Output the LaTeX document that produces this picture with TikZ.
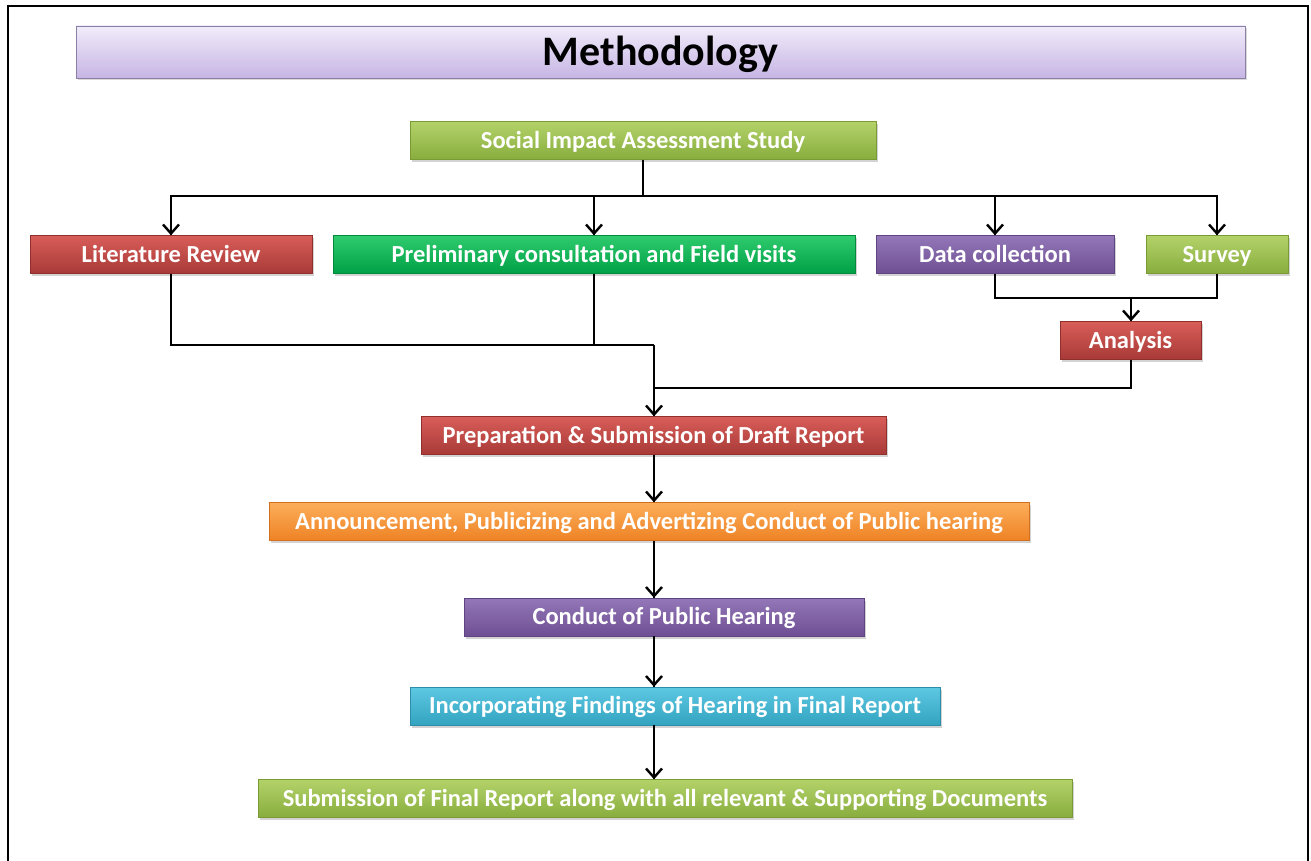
\documentclass[tikz,border=0pt]{standalone}
\usepackage{fontspec}
\setmainfont{Carlito}
\usetikzlibrary{positioning, arrows.meta, decorations.markings, shadows}
\definecolor{lilactop}{HTML}{F1ECFA}
\definecolor{lilacbot}{HTML}{C6B5E4}
\definecolor{lilacdraw}{HTML}{8C7FA6}
\definecolor{greentop}{HTML}{B3D36A}
\definecolor{greenbot}{HTML}{88AC3D}
\definecolor{greendraw}{HTML}{7A9A36}
\definecolor{redtop}{HTML}{D85D59}
\definecolor{redbot}{HTML}{A83A37}
\definecolor{reddraw}{HTML}{8F302D}
\definecolor{emtop}{HTML}{2FCB6E}
\definecolor{embot}{HTML}{00A046}
\definecolor{emdraw}{HTML}{008A3C}
\definecolor{purptop}{HTML}{9377B8}
\definecolor{purpbot}{HTML}{6E4F93}
\definecolor{purpdraw}{HTML}{5E4480}
\definecolor{orgtop}{HTML}{FCAE5B}
\definecolor{orgbot}{HTML}{EE8224}
\definecolor{orgdraw}{HTML}{D2701E}
\definecolor{cyantop}{HTML}{5DC8E2}
\definecolor{cyanbot}{HTML}{33A3C0}
\definecolor{cyandraw}{HTML}{2C8EA8}

\begin{document}
\begin{tikzpicture}[%
		x=1pt, y=-1pt,
		stepbox/.style={
			rectangle,
			inner sep=0pt,
			minimum height=38pt,
			text height=20pt,
			text depth=4.5pt,
			thin,
			text=white,
			font=\bfseries\fontsize{24.5}{28}\selectfont,
			drop shadow={shadow xshift=1.5pt, shadow yshift=-2.5pt, opacity=0.35}
		},
		headbox/.style={
			rectangle,
			inner sep=0pt,
			minimum height=52pt,
			text height=32pt,
			text depth=5pt,
			draw=lilacdraw,
			top color=lilactop,
			bottom color=lilacbot,
			font=\bfseries\fontsize{42}{48}\selectfont,
			drop shadow={shadow xshift=1.5pt, shadow yshift=-2.5pt, opacity=0.3}
		},
		greenbox/.style={draw=greendraw, top color=greentop, bottom color=greenbot},
		redbox/.style={draw=reddraw, top color=redtop, bottom color=redbot},
		emeraldbox/.style={draw=emdraw, top color=emtop, bottom color=embot},
		purplebox/.style={draw=purpdraw, top color=purptop, bottom color=purpbot},
		orangebox/.style={draw=orgdraw, top color=orgtop, bottom color=orgbot},
		cyanbox/.style={draw=cyandraw, top color=cyantop, bottom color=cyanbot},
		flowline/.style={
			line width=2.4pt,
			black
		},
		flowarrow/.style={
			line width=2.4pt,
			black,
			decoration={markings,mark=at position 1 with {\arrow{Straight Barb[length=9pt,width=16pt,line width=2.4pt]}}},
			postaction={decorate}
		}]

		\useasboundingbox (0,0) rectangle (1311,861);

		% FRAME
		\draw[line width=2.4pt] (8,861) -- (8,6) -- (1308,6) -- (1308,861);

		% TITLE
		\node (head) [headbox, minimum width=1169pt] at (660.5,52) {Methodology};

		% STAGE 1
		\node (sias) [stepbox, greenbox, minimum width=466pt] at (643,140.5) {Social Impact Assessment Study};

		\node (litrev) [stepbox, redbox, minimum width=282pt] at (171,254.5) {Literature Review};
		\node (prelim) [stepbox, emeraldbox, minimum width=522pt] at (594,254.5) {Preliminary consultation and Field visits};
		\node (datacol) [stepbox, purplebox, minimum width=238pt] at (995,254.5) {Data collection};
		\node (survey) [stepbox, greenbox, minimum width=142pt] at (1217,254.5) {Survey};
		\node (analysis) [stepbox, redbox, minimum width=141pt] at (1130.5,340.5) {Analysis};

		% STAGE 2
		\node (draft) [stepbox, redbox, minimum width=465pt] at (653.5,435.5) {Preparation \& Submission of Draft Report};
		\node (announce) [stepbox, orangebox, minimum width=760pt] at (649,521.5) {Announcement, Publicizing and Advertizing Conduct of Public hearing};
		\node (hearing) [stepbox, purplebox, minimum width=400pt] at (664,617) {Conduct of Public Hearing};
		\node (incorp) [stepbox, cyanbox, minimum width=530pt] at (675,706) {Incorporating Findings of Hearing in Final Report};
		\node (finalrep) [stepbox, greenbox, minimum width=814pt] at (665,798.5) {Submission of Final Report along with all relevant \& Supporting Documents};

		% JUNCTIONS
		\coordinate (split) at (643,196);
		\coordinate (merge1) at (1131,298);
		\coordinate (merge2) at (654,345);
		\coordinate (merge3) at (654,388);

		% STAGE 1 LINES
		\draw[flowline] (sias.south) -- (split);
		\draw[flowarrow] (split) -| (litrev.north);
		\draw[flowarrow] (split) -| (prelim.north);
		\draw[flowarrow] (split) -| (datacol.north);
		\draw[flowarrow] (split) -| (survey.north);

		\draw[flowline] (datacol.south) |- (merge1);
		\draw[flowline] (survey.south) |- (merge1);
		\draw[flowarrow] (merge1) -- (merge1 |- analysis.north);

		\draw[flowline] (litrev.south) |- (merge2);
		\draw[flowline] (prelim.south) |- (merge2);
		\draw[flowline] (analysis.south -| merge1) |- (merge3);
		\draw[flowarrow] (merge2) -- (merge2 |- draft.north);

		% STAGE 2 LINES
		\draw[flowarrow] (merge2 |- draft.south) -- (merge2 |- announce.north);
		\draw[flowarrow] (merge2 |- announce.south) -- (merge2 |- hearing.north);
		\draw[flowarrow] (merge2 |- hearing.south) -- (merge2 |- incorp.north);
		\draw[flowarrow] (merge2 |- incorp.south) -- (merge2 |- finalrep.north);
\end{tikzpicture}
\end{document}
